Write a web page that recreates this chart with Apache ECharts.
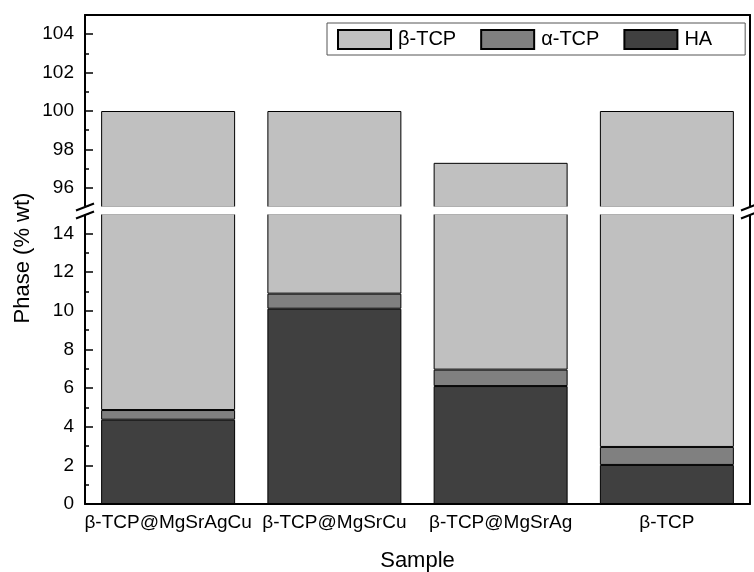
<!DOCTYPE html>
<html><head><meta charset="utf-8">
<script src="https://cdn.jsdelivr.net/npm/echarts@6/dist/echarts.min.js"></script>
<style>html,body{margin:0;padding:0;background:#fff}#c{width:754px;height:572px}</style>
</head><body><div id="c"></div>
<script>
const categories = ['β-TCP@MgSrAgCu', 'β-TCP@MgSrCu', 'β-TCP@MgSrAg', 'β-TCP'];
const haValues = [4.36, 10.1, 6.1, 2.02];
const alphaValues = [0.5, 0.78, 0.85, 0.93];
const betaValues = [95.14, 89.12, 90.35, 97.05];
const upperMajorTicks = [96, 98, 100, 102, 104];
const upperMinorTicks = [95, 97, 99, 101, 103, 105];
const lowerMajorTicks = [0, 2, 4, 6, 8, 10, 12, 14];
const lowerMinorTicks = [1, 3, 5, 7, 9, 11, 13, 15];
const legendNames = ['β-TCP', 'α-TCP', 'HA'];

const FONT = 'Liberation Sans, Arial, sans-serif';
const colors = { 'HA': '#404040', 'α-TCP': '#808080', 'β-TCP': '#c0c0c0' };
const GL = 85, GR = 4, UT = 15, UH = 192, LT = 214, LH = 290;

const chart = echarts.init(document.getElementById('c'), null, { renderer: 'canvas' });

function yAxesFor(grid, min, max, major, minor) {
  return [
    { type: 'value', gridIndex: grid, min, max, position: 'left',
      axisLine: { show: true, lineStyle: { color: '#000', width: 2 } },
      axisTick: { show: true, inside: true, length: 8, customValues: major, lineStyle: { color: '#000', width: 1.5 } },
      axisLabel: { show: true, customValues: major, color: '#000', fontSize: 19, fontFamily: FONT, margin: 11 },
      splitLine: { show: false } },
    { type: 'value', gridIndex: grid, min, max, position: 'left',
      axisLine: { show: false },
      axisTick: { show: true, inside: true, length: 4, customValues: minor, lineStyle: { color: '#000', width: 1.5 } },
      axisLabel: { show: false }, splitLine: { show: false } },
    { type: 'value', gridIndex: grid, min, max, position: 'right',
      axisLine: { show: true, lineStyle: { color: '#000', width: 2 } },
      axisTick: { show: false }, axisLabel: { show: false }, splitLine: { show: false } }
  ];
}

const yAxes = yAxesFor(0, 95, 105, upperMajorTicks, upperMinorTicks)
  .concat(yAxesFor(1, 0, 15, lowerMajorTicks, lowerMinorTicks));

const dataByName = { 'HA': haValues, 'α-TCP': alphaValues, 'β-TCP': betaValues };
const series = [];
[0, 1].forEach(function (g) {
  ['HA', 'α-TCP', 'β-TCP'].forEach(function (name) {
    series.push({
      name: name, type: 'bar', stack: 'total' + g,
      xAxisIndex: g, yAxisIndex: g * 3,
      data: dataByName[name],
      barWidth: '80.6%', clip: true,
      itemStyle: { color: colors[name], borderColor: '#000', borderWidth: 1 },
      emphasis: { disabled: true }, animation: false
    });
  });
});

function brk(x, y) {
  return { type: 'line', shape: { x1: x - 9, y1: y + 3.5, x2: x + 9, y2: y - 3.5 },
    style: { stroke: '#000', lineWidth: 2 }, z: 100 };
}

chart.setOption({
  animation: false,
  backgroundColor: '#fff',
  textStyle: { fontFamily: FONT },
  grid: [
    { left: GL, right: GR, top: UT, height: UH, containLabel: false, outerBoundsMode: 'none' },
    { left: GL, right: GR, top: LT, height: LH, containLabel: false, outerBoundsMode: 'none' }
  ],
  legend: {
    data: legendNames, left: 327, top: 23,
    orient: 'horizontal', itemWidth: 53, itemHeight: 19, itemGap: 24,
    padding: [6, 33, 5, 10],
    borderColor: '#555', borderWidth: 1,
    icon: 'rect',
    textStyle: { fontSize: 20, color: '#000', fontFamily: FONT, padding: [0, 0, 0, 2] },
    selectedMode: false
  },
  xAxis: [
    { type: 'category', gridIndex: 0, data: categories, position: 'top',
      axisLine: { show: true, onZero: false, lineStyle: { color: '#000', width: 2 } },
      axisTick: { show: false }, axisLabel: { show: false } },
    { type: 'category', gridIndex: 1, data: categories, position: 'bottom',
      axisLine: { show: true, onZero: false, lineStyle: { color: '#000', width: 2 } },
      axisTick: { show: false },
      axisLabel: { show: true, color: '#000', fontSize: 19, fontFamily: FONT, margin: 9, interval: 0 },
      name: 'Sample', nameLocation: 'middle', nameGap: 46,
      nameTextStyle: { fontSize: 22, color: '#000', fontFamily: FONT } }
  ],
  yAxis: yAxes,
  series: series,
  graphic: [
    { type: 'text', x: 23, y: 258, rotation: Math.PI / 2,
      style: { text: 'Phase (% wt)', fontSize: 22, fill: '#000', fontFamily: FONT,
        align: 'center', verticalAlign: 'middle' } },
    { type: 'rect', shape: { x: GL - 12, y: UT + UH - 0.5, width: 754 - GL + 12, height: LT - UT - UH + 1 },
      style: { fill: '#fff' }, z: 99 },
    brk(GL, 207), brk(GL, 215),
    brk(754 - GR, 207), brk(754 - GR, 215)
  ]
});
</script></body></html>
